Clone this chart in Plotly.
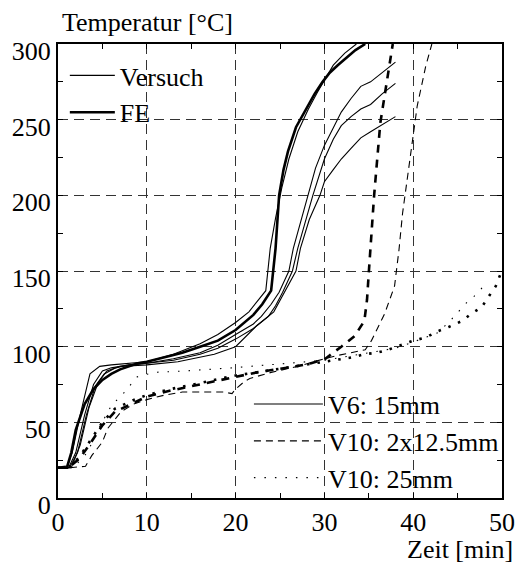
import plotly.graph_objects as go

# ---------------- data: temperature [°C] over time [min] ----------------
# V6: 15mm, simulation (FE)
v6_fe_t = [0, 1.0, 1.5, 2.0, 3.0, 4.0, 5.0, 6.0, 7.0, 8.0, 9.0, 10, 12, 14, 16, 18, 20, 21, 22, 23, 24,
           24.5, 24.9, 25.4, 25.9, 26.8, 27.9, 28.9, 29.8, 30.6, 31.5, 32.5, 33.5, 34.6]
v6_fe_T = [20, 20, 30, 45, 62, 72, 78, 82, 85, 87, 89, 90, 93, 96, 100, 104, 111, 116, 121, 128, 137,
           165, 200, 217, 229, 245, 257, 267, 275, 281, 286, 291, 296, 300]

# V6: 15mm, measurements (Versuch)
v6_a_t = [0, 1.0, 1.6, 2.5, 3.6, 4.7, 6, 8, 10, 13, 16, 18, 20, 21.5, 22.5, 23.4, 23.9, 24.5, 25.2,
          26.0, 27.0, 28.2, 29.2, 30.0, 31.0, 32.3, 33.6]
v6_a_T = [20, 20, 30, 55, 82, 87, 88, 89, 90, 95, 102, 108, 116, 123, 130, 137, 165, 185, 205,
          224, 242, 257, 268, 276, 286, 294, 300]

v6_b_t = [0, 1.2, 2.0, 3.0, 4.0, 5.0, 6.0, 8, 10, 13, 16, 18, 20, 22, 22.9, 24.0, 24.9, 26.0, 26.5,
          27.3, 28.1, 29.0, 30.0, 31.0, 31.9, 33.0, 34.1, 35.2, 36.5, 38.0]
v6_b_T = [20, 20, 30, 55, 75, 84, 86, 88, 89, 92, 96, 101, 108, 115, 120, 128, 136, 150, 165,
          182, 200, 218, 233, 245, 255, 264, 272, 275, 281, 288]

v6_c_t = [0, 1.3, 2.2, 3.2, 4.2, 5.2, 6.5, 8, 10, 13, 16, 18, 20, 22, 23.7, 24.5, 25.3, 26.4, 27.0,
          27.9, 28.7, 30.0, 31.0, 31.9, 33.0, 34.1, 35.2, 36.5, 38.0]
v6_c_T = [20, 20, 30, 55, 74, 82, 86, 88, 89, 91, 95, 99, 105, 112, 120, 127, 136, 150, 165,
          184, 200, 224, 237, 246, 252, 257, 260, 267, 274]

v6_d_t = [0, 1.5, 2.5, 3.5, 4.5, 5.5, 7, 10, 13.5, 17.6, 20, 22.4, 24.3, 25.7, 26.8, 27.3, 28.3,
          29.5, 30.0, 31.0, 31.9, 33.0, 34.1, 35.2, 36.3, 38.0]
v6_d_T = [20, 20, 35, 60, 76, 84, 87, 88, 90, 95, 100, 114, 123, 138, 150, 165, 184,
          200, 209, 217, 224, 231, 238, 242, 246, 252]

# V10: 2x12.5mm, simulation (FE) and measurement (Versuch)
v10a_fe_t = [0, 1.4, 2.4, 3.4, 5.0, 6.4, 8.6, 10, 12.7, 15.2, 17.7, 20, 22.4, 24.5, 26.8, 28.5, 30.1,
             31.9, 33.4, 34.5, 34.8, 35.0, 35.2, 35.6, 36.3, 37.2, 37.7]
v10a_fe_T = [20, 21, 26, 34, 48, 57, 63, 67, 71, 74, 77, 80, 83, 85, 87, 89, 92,
             100, 107, 117, 131, 149, 165, 200, 248, 281, 300]

v10a_ex_t = [0, 1.4, 3.1, 3.8, 5.0, 5.6, 7.1, 8.5, 10, 12, 14, 17.2, 18.7, 19.6, 20.0, 21.0, 21.6,
             24, 27, 30, 31.3, 33, 34.6, 35.3, 36.8, 37.9, 38.4, 38.8, 39.7, 40.45, 41.4, 42.1]
v10a_ex_T = [20, 20, 21, 28, 37, 46, 57, 62, 65, 68, 70, 70, 70, 69, 72, 77, 79,
             83, 87, 92, 94, 96, 98, 104, 122, 140, 164, 188, 226, 259, 285, 300]

# V10: 25mm, simulation (FE) and measurement (Versuch)
v10b_fe_t = [0, 1.4, 2.4, 3.4, 5.0, 6.4, 8.6, 10, 12.7, 15.2, 17.7, 20, 22.4, 24.5, 26.8, 28.5, 30.0,
             31.7, 33.2, 34.5, 35.9, 37.2, 38.7, 40.0, 41.4, 42.7, 44.0, 45.5, 46.6, 47.7, 48.6, 49.3, 49.9]
v10b_fe_T = [20, 21, 27, 36, 50, 59, 65, 68, 72, 75, 78, 81, 83, 85, 87, 89, 90,
             92, 93, 95, 96, 98, 101, 104, 106, 110, 113, 117, 122, 126, 134, 140, 149]

v10b_ex_t = [0, 1.2, 2.2, 3.3, 4.5, 6.0, 7.5, 8.9, 10.8, 14.4, 19.6, 24, 28, 30, 32, 34, 36, 38,
             39.5, 41.3, 42.7, 44.0, 45.1, 46.0, 47.4, 48.0]
v10b_ex_T = [20, 20, 23, 30, 45, 61, 70, 80, 83, 84, 86, 88, 90, 91, 93, 95, 97, 99,
             102, 106, 109, 116, 123, 129, 136, 141]

# line styles
THIN, THICK = 1.1, 2.6
SOLID = "solid"
DASH_THIN, DASH_THICK = "7px,5px", "8px,7px"
DOT_THIN, DOT_THICK = "1.5px,9px", "2.5px,8px"

series = [
    (v6_a_t, v6_a_T, THIN, SOLID),
    (v6_b_t, v6_b_T, THIN, SOLID),
    (v6_c_t, v6_c_T, THIN, SOLID),
    (v6_d_t, v6_d_T, THIN, SOLID),
    (v6_fe_t, v6_fe_T, THICK, SOLID),
    (v10a_ex_t, v10a_ex_T, THIN, DASH_THIN),
    (v10a_fe_t, v10a_fe_T, THICK, DASH_THICK),
    (v10b_ex_t, v10b_ex_T, THIN, DOT_THIN),
    (v10b_fe_t, v10b_fe_T, THICK, DOT_THICK),
]

fig = go.Figure()
for t, T, w, d in series:
    fig.add_trace(go.Scatter(x=t, y=T, mode="lines", showlegend=False, hoverinfo="skip",
                             line=dict(color="black", width=w, dash=d)))

# legend entries: line weight (Versuch / FE) and line type (specimen)
legend_entries = [
    ("Versuch", THIN, SOLID, "legend"),
    ("FE", THICK, SOLID, "legend"),
    ("V6: 15mm", THIN, SOLID, "legend2"),
    ("V10: 2x12.5mm", THIN, DASH_THIN, "legend2"),
    ("V10: 25mm", THIN, DOT_THIN, "legend2"),
]
for name, w, d, lg in legend_entries:
    fig.add_trace(go.Scatter(x=[None], y=[None], mode="lines", name=name, legend=lg,
                             line=dict(color="black", width=w, dash=d)))

FONT = "Liberation Serif"
axis_common = dict(
    showgrid=True, gridcolor="#333333", gridwidth=1, griddash="10px,6px",
    zeroline=False, showline=True, linecolor="black", linewidth=2, mirror="ticks",
    ticks="inside", ticklen=5, tickwidth=1, tickcolor="black",
    tickfont=dict(family=FONT, size=26, color="black"),
)
fig.update_xaxes(range=[0, 50], tick0=0, dtick=10,
                 minor=dict(ticks="inside", dtick=5, ticklen=5, tickcolor="black", showgrid=False),
                 **axis_common)
fig.update_yaxes(range=[0, 300], tick0=0, dtick=50, ticklabelshift=7,
                 minor=dict(ticks="inside", dtick=25, ticklen=5, tickcolor="black", showgrid=False),
                 **axis_common)

# white panels keep the gridlines out of the two legend areas
panel = dict(type="rect", xref="paper", yref="paper", fillcolor="white",
             line=dict(width=0), layer="between")
fig.add_shape(x0=0.003, x1=0.3436, y0=0.795, y1=0.976, **panel)
fig.add_shape(x0=0.4273, x1=0.997, y0=0.003, y1=0.2489, **panel)

fig.add_annotation(text="Temperatur [°C]", xref="paper", yref="paper", x=0.004, y=1.048,
                   xanchor="left", yanchor="middle", showarrow=False,
                   font=dict(family=FONT, size=26, color="black"))
fig.add_annotation(text="Zeit [min]", xref="paper", yref="paper", x=1.03, y=-0.1123,
                   xanchor="right", yanchor="middle", showarrow=False, height=26,
                   font=dict(family=FONT, size=26, color="black"))

fig.update_layout(
    width=527, height=562,
    margin=dict(l=56, r=17, t=44, b=64),
    plot_bgcolor="white", paper_bgcolor="white",
    font=dict(family=FONT, size=26, color="black"),
    hovermode=False,
    legend=dict(x=0.0154, y=0.9824, xanchor="left", yanchor="top", bgcolor="rgba(0,0,0,0)",
                borderwidth=0, itemwidth=45, tracegroupgap=0,
                font=dict(family=FONT, size=26, color="black")),
    legend2=dict(x=0.43, y=-0.008, xanchor="left", yanchor="bottom", bgcolor="rgba(0,0,0,0)",
                 borderwidth=0, itemwidth=69, tracegroupgap=0,
                 font=dict(family=FONT, size=26, color="black")),
)

fig.write_html("out.html")
